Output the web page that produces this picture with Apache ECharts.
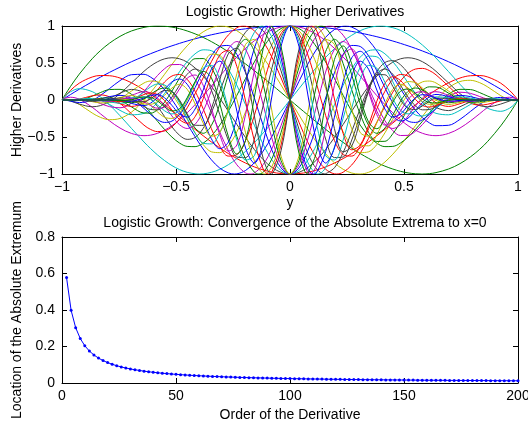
<!DOCTYPE html>
<html><head><meta charset="utf-8">
<script src="https://cdn.jsdelivr.net/npm/echarts@6/dist/echarts.min.js"></script>
<style>html,body{margin:0;padding:0;background:#fff}#c{width:528px;height:424px}</style>
</head><body><div id="c"></div>
<script>
// ---------- top panel: normalized higher derivatives vs y ----------
const yGrid = [-1,-0.9851,-0.9625,-0.9242,-0.8675,-0.8319,-0.7912,-0.7456,-0.6953,-0.6404,-0.6113,-0.5811,-0.5500,-0.5178,-0.4848,-0.4510,-0.4163,-0.3809,-0.3448,-0.3081,-0.2708,-0.2330,-0.1949,-0.1563,-0.1175,-0.0784,-0.0393,
 0,0.0393,0.0784,0.1175,0.1563,0.1949,0.2330,0.2708,0.3081,0.3448,0.3809,0.4163,0.4510,0.4848,0.5178,0.5500,0.5811,0.6113,0.6404,0.6953,0.7456,0.7912,0.8319,0.8675,0.9242,0.9625,0.9851,1];

const deriv1 = [0,0.030,0.074,0.146,0.247,0.308,0.374,0.444,0.517,0.590,0.626,0.662,0.698,0.732,0.765,0.797,0.827,0.855,0.881,0.905,0.927,0.946,0.962,0.976,0.986,0.994,0.998,
 1,0.998,0.994,0.986,0.976,0.962,0.946,0.927,0.905,0.881,0.855,0.827,0.797,0.765,0.732,0.698,0.662,0.626,0.590,0.517,0.444,0.374,0.308,0.247,0.146,0.074,0.030,0];
const deriv2 = [0,0.076,0.184,0.350,0.558,0.666,0.769,0.860,0.933,0.981,0.995,1.000,0.997,0.985,0.964,0.933,0.894,0.846,0.789,0.724,0.652,0.573,0.487,0.396,0.301,0.203,0.102,
 0,-0.102,-0.203,-0.301,-0.396,-0.487,-0.573,-0.652,-0.724,-0.789,-0.846,-0.894,-0.933,-0.964,-0.985,-0.997,-1.000,-0.995,-0.981,-0.933,-0.860,-0.769,-0.666,-0.558,-0.350,-0.184,-0.076,0];
const deriv3 = [0,0.056,0.131,0.228,0.311,0.331,0.328,0.297,0.233,0.136,0.076,0.009,-0.065,-0.143,-0.225,-0.311,-0.397,-0.483,-0.567,-0.647,-0.723,-0.792,-0.852,-0.904,-0.945,-0.976,-0.994,
 -1,-0.994,-0.976,-0.945,-0.904,-0.852,-0.792,-0.723,-0.647,-0.567,-0.483,-0.397,-0.311,-0.225,-0.143,-0.065,0.009,0.076,0.136,0.233,0.297,0.328,0.331,0.311,0.228,0.131,0.056,0];
const deriv4 = [0,0.054,0.112,0.153,0.113,0.043,-0.067,-0.212,-0.384,-0.567,-0.657,-0.742,-0.819,-0.886,-0.940,-0.977,-0.997,-0.998,-0.978,-0.937,-0.875,-0.793,-0.693,-0.576,-0.445,-0.303,-0.153,
 0,0.153,0.303,0.445,0.576,0.693,0.793,0.875,0.937,0.978,0.998,0.997,0.977,0.940,0.886,0.819,0.742,0.657,0.567,0.384,0.212,0.067,-0.043,-0.113,-0.153,-0.112,-0.054,0];
const deriv5 = [0,0.024,0.037,0.010,-0.098,-0.185,-0.283,-0.379,-0.452,-0.482,-0.475,-0.450,-0.408,-0.347,-0.268,-0.173,-0.063,0.059,0.188,0.321,0.454,0.581,0.698,0.801,0.885,0.948,0.987,
 1,0.987,0.948,0.885,0.801,0.698,0.581,0.454,0.321,0.188,0.059,-0.063,-0.173,-0.268,-0.347,-0.408,-0.450,-0.475,-0.482,-0.452,-0.379,-0.283,-0.185,-0.098,0.010,0.037,0.024,0];
const deriv6 = [0,0.010,0.001,-0.059,-0.176,-0.234,-0.266,-0.249,-0.164,-0.005,0.101,0.220,0.348,0.481,0.611,0.732,0.838,0.921,0.977,1.000,0.987,0.936,0.849,0.726,0.574,0.397,0.203,
 0,-0.203,-0.397,-0.574,-0.726,-0.849,-0.936,-0.987,-1.000,-0.977,-0.921,-0.838,-0.732,-0.611,-0.481,-0.348,-0.220,-0.101,0.005,0.164,0.249,0.266,0.234,0.176,0.059,-0.001,-0.010,0];
const deriv7 = [0,0.001,-0.014,-0.055,-0.091,-0.076,-0.019,0.086,0.230,0.388,0.459,0.517,0.556,0.571,0.557,0.512,0.433,0.323,0.185,0.025,-0.150,-0.331,-0.507,-0.669,-0.807,-0.912,-0.978,
 -1,-0.978,-0.912,-0.807,-0.669,-0.507,-0.331,-0.150,0.025,0.185,0.323,0.433,0.512,0.557,0.571,0.556,0.517,0.459,0.388,0.230,0.086,-0.019,-0.076,-0.091,-0.055,-0.014,0.001,0];
const deriv8 = [0,-0.002,-0.015,-0.035,-0.002,0.061,0.155,0.262,0.342,0.347,0.309,0.239,0.137,0.005,-0.150,-0.321,-0.496,-0.663,-0.808,-0.920,-0.985,-0.998,-0.952,-0.848,-0.690,-0.487,-0.252,
 0,0.252,0.487,0.690,0.848,0.952,0.998,0.985,0.920,0.808,0.663,0.496,0.321,0.150,-0.005,-0.137,-0.239,-0.309,-0.347,-0.342,-0.262,-0.155,-0.061,0.002,0.035,0.015,0.002,0];
const deriv9 = [0,-0.002,-0.008,-0.004,0.052,0.100,0.141,0.144,0.077,-0.074,-0.176,-0.287,-0.399,-0.501,-0.581,-0.627,-0.630,-0.584,-0.487,-0.340,-0.153,0.063,0.292,0.514,0.711,0.867,0.966,
 1,0.966,0.867,0.711,0.514,0.292,0.063,-0.153,-0.340,-0.487,-0.584,-0.630,-0.627,-0.581,-0.501,-0.399,-0.287,-0.176,-0.074,0.077,0.144,0.141,0.100,0.052,-0.004,-0.008,-0.002,0];
const deriv10 = [0,-0.001,-0.003,0.012,0.057,0.069,0.042,-0.044,-0.186,-0.340,-0.398,-0.427,-0.418,-0.363,-0.258,-0.106,0.085,0.299,0.518,0.718,0.878,0.976,0.998,0.935,0.790,0.572,0.300,
 0,-0.300,-0.572,-0.790,-0.935,-0.998,-0.976,-0.878,-0.718,-0.518,-0.299,-0.085,0.106,0.258,0.363,0.418,0.427,0.398,0.340,0.186,0.044,-0.042,-0.069,-0.057,-0.012,0.003,0.001,0];
const deriv11 = [0,-0.001,0.001,0.013,0.021,-0.004,-0.061,-0.140,-0.200,-0.180,-0.124,-0.033,0.089,0.232,0.381,0.518,0.624,0.678,0.666,0.579,0.420,0.198,-0.064,-0.341,-0.601,-0.813,-0.952,
 -1,-0.952,-0.813,-0.601,-0.341,-0.064,0.198,0.420,0.579,0.666,0.678,0.624,0.518,0.381,0.232,0.089,-0.033,-0.124,-0.180,-0.200,-0.140,-0.061,-0.004,0.021,0.013,0.001,-0.001,0];
const deriv12 = [0,0,0.002,0.008,-0.011,-0.047,-0.090,-0.105,-0.043,0.117,0.224,0.331,0.423,0.478,0.480,0.415,0.279,0.078,-0.168,-0.433,-0.682,-0.876,-0.985,-0.986,-0.872,-0.650,-0.347,
 0,0.347,0.650,0.872,0.986,0.985,0.876,0.682,0.433,0.168,-0.078,-0.279,-0.415,-0.480,-0.478,-0.423,-0.331,-0.224,-0.117,0.043,0.105,0.090,0.047,0.011,-0.008,-0.002,0,0];
const deriv13 = [0,0,0.001,0.001,-0.022,-0.039,-0.035,0.016,0.121,0.230,0.256,0.245,0.187,0.078,-0.076,-0.259,-0.444,-0.602,-0.700,-0.711,-0.621,-0.431,-0.160,0.159,0.478,0.752,0.935,
 1,0.935,0.752,0.478,0.159,-0.160,-0.431,-0.621,-0.711,-0.700,-0.602,-0.444,-0.259,-0.076,0.078,0.187,0.245,0.256,0.230,0.121,0.016,-0.035,-0.039,-0.022,0.001,0.001,0,0];
const deriv14 = [0,0,0.001,-0.003,-0.017,-0.011,0.025,0.091,0.143,0.101,0.024,-0.088,-0.224,-0.363,-0.476,-0.532,-0.506,-0.384,-0.170,0.113,0.424,0.710,0.916,1.000,0.934,0.723,0.394,
 0,-0.394,-0.723,-0.934,-1.000,-0.916,-0.710,-0.424,-0.113,0.170,0.384,0.506,0.532,0.476,0.363,0.224,0.088,-0.024,-0.101,-0.143,-0.091,-0.025,0.011,0.017,0.003,-0.001,0,0];
const deriv15 = [0,0,0,-0.003,-0.003,0.015,0.046,0.063,0.018,-0.114,-0.196,-0.266,-0.303,-0.285,-0.198,-0.042,0.167,0.394,0.596,0.723,0.737,0.616,0.367,0.027,-0.346,-0.683,-0.917,
 -1,-0.917,-0.683,-0.346,0.027,0.367,0.616,0.737,0.723,0.596,0.394,0.167,-0.042,-0.198,-0.285,-0.303,-0.266,-0.196,-0.114,0.018,0.063,0.046,0.015,-0.003,-0.003,0,0,0];
const deriv16 = [0,0,0,-0.002,0.007,0.022,0.029,-0.005,-0.093,-0.176,-0.178,-0.131,-0.029,0.121,0.295,0.456,0.558,0.560,0.438,0.194,-0.137,-0.493,-0.797,-0.975,-0.977,-0.788,-0.439,
 0,0.439,0.788,0.977,0.975,0.797,0.493,0.137,-0.194,-0.438,-0.560,-0.558,-0.456,-0.295,-0.121,0.029,0.131,0.178,0.176,0.093,0.005,-0.029,-0.022,-0.007,0.002,0,0,0];
const deriv17 = [0,0,0,0,0.008,0.011,-0.006,-0.050,-0.087,-0.037,0.038,0.138,0.244,0.324,0.345,0.279,0.118,-0.119,-0.388,-0.624,-0.758,-0.738,-0.546,-0.208,0.208,0.608,0.895,
 1,0.895,0.608,0.208,-0.208,-0.546,-0.738,-0.758,-0.624,-0.388,-0.119,0.118,0.279,0.345,0.324,0.244,0.138,0.038,-0.037,-0.087,-0.050,-0.006,0.011,0.008,0,0,0,0];
const deriv18 = [0,0,0,0.001,0.004,-0.003,-0.025,-0.044,-0.007,0.111,0.177,0.216,0.202,0.116,-0.041,-0.246,-0.448,-0.583,-0.593,-0.444,-0.145,0.247,0.636,0.915,0.998,0.845,0.484,
 0,-0.484,-0.845,-0.998,-0.915,-0.636,-0.247,0.145,0.444,0.593,0.583,0.448,0.246,0.041,-0.116,-0.202,-0.216,-0.177,-0.111,0.007,0.044,0.025,0.003,-0.004,-0.001,0,0,0];
const deriv19 = [0,0,0,0.001,-0.001,-0.009,-0.018,0,0.062,0.112,0.093,0.028,-0.082,-0.216,-0.333,-0.385,-0.329,-0.151,0.127,0.437,0.688,0.790,0.685,0.377,-0.067,-0.527,-0.872,
 -1,-0.872,-0.527,-0.067,0.377,0.685,0.790,0.688,0.437,0.127,-0.151,-0.329,-0.385,-0.333,-0.216,-0.082,0.028,0.093,0.112,0.062,0,-0.018,-0.009,-0.001,0.001,0,0,0];
const deriv20 = [0,0,0,0,-0.003,-0.008,-0.001,0.032,0.060,0.003,-0.072,-0.161,-0.233,-0.249,-0.176,-0.007,0.230,0.468,0.619,0.604,0.389,0.007,-0.443,-0.822,-0.997,-0.894,-0.527,
 0,0.527,0.894,0.997,0.822,0.443,-0.007,-0.389,-0.604,-0.619,-0.468,-0.230,0.007,0.176,0.249,0.233,0.161,0.072,-0.003,-0.060,-0.032,0.001,0.008,0.003,0,0,0,0];
const deriv21 = [0,0,0,0,0,-0.001,0.012,0.027,0,-0.089,-0.128,-0.133,-0.079,0.039,0.198,0.348,0.419,0.354,0.134,-0.197,-0.541,-0.770,-0.778,-0.527,-0.074,0.441,0.847,
 1,0.847,0.441,-0.074,-0.527,-0.778,-0.770,-0.541,-0.197,0.134,0.354,0.419,0.348,0.198,0.039,-0.079,-0.133,-0.128,-0.089,0,0.027,0.012,-0.001,0,0,0,0,0];
const deriv22 = [0,0,0,0,0,0.004,0.012,0.002,-0.046,-0.075,-0.042,0.035,0.144,0.245,0.284,0.213,0.018,-0.259,-0.524,-0.658,-0.571,-0.246,0.232,0.700,0.975,0.934,0.568,
 0,-0.568,-0.934,-0.975,-0.700,-0.232,0.246,0.571,0.658,0.524,0.259,-0.018,-0.213,-0.284,-0.245,-0.144,-0.035,0.042,0.075,0.046,-0.002,-0.012,-0.004,0,0,0,0,0];
const deriv23 = [0,0,0,0,0,0.004,0.003,-0.018,-0.037,0.016,0.076,0.137,0.162,0.116,-0.015,-0.203,-0.379,-0.450,-0.344,-0.054,0.339,0.684,0.820,0.654,0.212,-0.352,-0.819,
 -1,-0.819,-0.352,0.212,0.654,0.820,0.684,0.339,-0.054,-0.344,-0.450,-0.379,-0.203,-0.015,0.116,0.162,0.137,0.076,0.016,-0.037,-0.018,0.003,0.004,0,0,0,0,0];
const deriv24 = [0,0,0,0,0,0.002,-0.006,-0.018,0.003,0.074,0.095,0.073,-0.009,-0.137,-0.263,-0.314,-0.225,0.016,0.339,0.608,0.673,0.452,-0.014,-0.554,-0.933,-0.965,-0.609,
 0,0.609,0.965,0.933,0.554,0.014,-0.452,-0.673,-0.608,-0.339,-0.016,0.225,0.314,0.263,0.137,0.009,-0.073,-0.095,-0.074,-0.003,0.018,0.006,-0.002,0,0,0,0,0];
const deriv25 = [0,0,0,0,0,-0.001,-0.007,-0.003,0.030,0.042,0.005,-0.066,-0.146,-0.188,-0.139,0.016,0.239,0.430,0.467,0.278,-0.108,-0.541,-0.811,-0.752,-0.344,0.259,0.790,
 1,0.790,0.259,-0.344,-0.752,-0.811,-0.541,-0.108,0.278,0.467,0.430,0.239,0.016,-0.139,-0.188,-0.146,-0.066,0.005,0.042,0.030,-0.003,-0.007,-0.001,0,0,0,0,0];
const deriv26 = [0,0,0,0,0,0,-0.003,0.011,0.025,-0.025,-0.075,-0.111,-0.096,-0.005,0.148,0.295,0.338,0.200,-0.108,-0.469,-0.690,-0.607,-0.196,0.390,0.870,0.986,0.648,
 0,-0.648,-0.986,-0.870,-0.390,0.196,0.607,0.690,0.469,0.108,-0.200,-0.338,-0.295,-0.148,0.005,0.096,0.111,0.075,0.025,-0.025,-0.011,0.003,0,0,0,0,0,0];
const deriv27 = [0,0,0,0,0,0,0.002,0.011,-0.004,-0.053,-0.058,-0.020,0.063,0.162,0.213,0.145,-0.053,-0.311,-0.489,-0.441,-0.121,0.357,0.752,0.819,0.467,-0.164,-0.758,
 -1,-0.758,-0.164,0.467,0.819,0.752,0.357,-0.121,-0.441,-0.489,-0.311,-0.053,0.145,0.213,0.162,0.063,-0.020,-0.058,-0.053,-0.004,0.011,0.002,0,0,0,0,0,0];
const deriv28 = [0,0,0,0,0,0,0.004,0.002,-0.022,-0.023,0.017,0.079,0.128,0.113,0,-0.184,-0.341,-0.343,-0.119,0.270,0.623,0.702,0.386,-0.216,-0.790,-0.998,-0.685,
 0,0.685,0.998,0.790,0.216,-0.386,-0.702,-0.623,-0.270,0.119,0.343,0.341,0.184,0,-0.113,-0.128,-0.079,-0.017,0.023,0.022,-0.002,-0.004,0,0,0,0,0,0];
const deriv29 = [0,0,0,0,0,0,0.002,-0.006,-0.015,0.026,0.060,0.072,0.029,-0.073,-0.189,-0.231,-0.122,0.134,0.415,0.525,0.323,-0.150,-0.649,-0.852,-0.577,0.068,0.725,
 1,0.725,0.068,-0.577,-0.852,-0.649,-0.150,0.323,0.525,0.415,0.134,-0.122,-0.231,-0.189,-0.073,0.029,0.072,0.060,0.026,-0.015,-0.006,0.002,0,0,0,0,0,0];
const deriv30 = [0,0,0,0,0,0,-0.001,-0.007,0.004,0.040,0.033,-0.013,-0.090,-0.148,-0.119,0.031,0.248,0.388,0.300,-0.046,-0.488,-0.731,-0.546,0.037,0.694,1.000,0.720,
 0,-0.720,-1.000,-0.694,-0.037,0.546,0.731,0.488,0.046,-0.300,-0.388,-0.248,-0.031,0.119,0.148,0.090,0.013,-0.033,-0.040,-0.004,0.007,0.001,0,0,0,0,0,0];

const topCurves = [deriv1, deriv2, deriv3, deriv4, deriv5, deriv6, deriv7, deriv8, deriv9, deriv10,
  deriv11, deriv12, deriv13, deriv14, deriv15, deriv16, deriv17, deriv18, deriv19, deriv20,
  deriv21, deriv22, deriv23, deriv24, deriv25, deriv26, deriv27, deriv28, deriv29, deriv30];

// ---------- bottom panel: location of absolute extremum vs order ----------
const derivOrder = [2,4,6,8,10,12,14,16,18,20,22,24,26,28,30,32,34,36,38,40,42,44,46,48,50,52,54,56,58,60,62,64,66,68,70,72,74,76,78,80,82,84,86,88,90,92,94,96,98,100,
 102,104,106,108,110,112,114,116,118,120,122,124,126,128,130,132,134,136,138,140,142,144,146,148,150,152,154,156,158,160,162,164,166,168,170,172,174,176,178,180,182,184,186,188,190,192,194,196,198,200];
const extremaLoc = [0.5774,0.3980,0.3027,0.2438,0.2039,0.1752,0.1535,0.1366,0.1230,0.1119,0.1026,0.0947,0.0880,0.0821,0.0770,0.0725,0.0685,0.0649,0.0616,0.0587,0.0560,0.0536,0.0514,0.0493,0.0474,0.0457,0.0440,0.0425,0.0411,0.0398,0.0385,0.0374,0.0363,0.0352,0.0343,0.0333,0.0325,0.0316,0.0308,0.0301,0.0294,0.0287,0.0280,0.0274,0.0268,0.0262,0.0257,0.0252,0.0247,0.0242,
 0.0237,0.0233,0.0228,0.0224,0.0220,0.0216,0.0213,0.0209,0.0206,0.0202,0.0199,0.0196,0.0193,0.0190,0.0187,0.0184,0.0181,0.0179,0.0176,0.0174,0.0171,0.0169,0.0167,0.0164,0.0162,0.0160,0.0158,0.0156,0.0154,0.0152,0.0150,0.0149,0.0147,0.0145,0.0143,0.0142,0.0140,0.0139,0.0137,0.0136,0.0134,0.0133,0.0131,0.0130,0.0129,0.0127,0.0126,0.0125,0.0123,0.0122];

const titleTop = 'Logistic Growth: Higher Derivatives';
const titleBottom = 'Logistic Growth: Convergence of the Absolute Extrema to x=0';
const palette = ['#0000ff','#008000','#ff0000','#00bfbf','#bf00bf','#bfbf00','#404040'];

const FONT = "'Liberation Sans', Arial, Helvetica, sans-serif";
const fmt = v => { const r = +(+v).toFixed(2); return r < 0 ? '\u2212' + String(-r) : String(r); };

// build series for the top panel (grid values + the ±1 extremum of each even order)
const series = [];
topCurves.forEach((vals, i) => {
  const n = i + 1;
  const pts = yGrid.map((y, j) => [y, vals[j]]);
  if (n % 2 === 0) {
    const p = extremaLoc[n / 2 - 1];
    [p, -p].forEach(py => {
      let best = 0;
      yGrid.forEach((y, j) => { if (Math.abs(y - py) < Math.abs(yGrid[best] - py)) best = j; });
      pts.push([py, Math.sign(vals[best])]);
    });
    pts.sort((a, b) => a[0] - b[0]);
  }
  series.push({
    type: 'line', xAxisIndex: 0, yAxisIndex: 0, data: pts, showSymbol: false,
    smooth: 0.35, silent: true, color: palette[i % 7],
    lineStyle: { width: 1, color: palette[i % 7] }
  });
});
series.push({
  type: 'line', xAxisIndex: 2, yAxisIndex: 2,
  data: derivOrder.map((n, i) => [n, extremaLoc[i]]),
  symbol: 'circle', symbolSize: 3, showSymbol: true, silent: true,
  color: '#0000ff', itemStyle: { color: '#0000ff' },
  lineStyle: { width: 1, color: '#0000ff' }
});

const lbl = { color: '#000', fontSize: 14, fontFamily: FONT };
const axLine = { show: true, onZero: false, lineStyle: { color: '#000', width: 1 } };
const tick = { show: true, inside: true, length: 5, lineStyle: { color: '#000', width: 1 } };
function mainX(grid, min, max, interval, name, gap) {
  return { gridIndex: grid, type: 'value', min, max, interval, position: 'bottom',
    axisLine: axLine, axisTick: tick, splitLine: { show: false },
    axisLabel: Object.assign({ margin: 6, formatter: fmt }, lbl),
    name, nameLocation: 'middle', nameGap: gap, nameMoveOverlap: false, nameTextStyle: lbl };
}
function mirrorX(grid, min, max, interval) {
  return { gridIndex: grid, type: 'value', min, max, interval, position: 'top',
    axisLine: axLine, axisTick: tick, axisLabel: { show: false }, splitLine: { show: false } };
}
function mainY(grid, min, max, interval, name) {
  return { gridIndex: grid, type: 'value', min, max, interval, position: 'left',
    axisLine: axLine, axisTick: tick, splitLine: { show: false },
    axisLabel: Object.assign({ margin: 7, formatter: fmt }, lbl),
    name, nameLocation: 'middle', nameGap: 38, nameRotate: 90, nameMoveOverlap: false, nameTextStyle: lbl };
}
function mirrorY(grid, min, max, interval) {
  return { gridIndex: grid, type: 'value', min, max, interval, position: 'right',
    axisLine: axLine, axisTick: tick, axisLabel: { show: false }, splitLine: { show: false } };
}

const chart = echarts.init(document.getElementById('c'), null, { renderer: 'canvas' });
chart.setOption({
  animation: false,
  backgroundColor: '#fff',
  title: [
    { text: titleTop, left: 290, top: 0, textAlign: 'center', textStyle: Object.assign({ fontWeight: 'normal' }, lbl) },
    { text: titleBottom, left: 290, top: 211, textAlign: 'center', textStyle: Object.assign({ fontWeight: 'normal' }, lbl) }
  ],
  grid: [
    { left: 62, top: 26, width: 456, height: 148, containLabel: false, outerBoundsMode: 'none' },
    { left: 62, top: 237, width: 456, height: 146, containLabel: false, outerBoundsMode: 'none' }
  ],
  xAxis: [ mainX(0, -1, 1, 0.5, 'y', 22), mirrorX(0, -1, 1, 0.5), mainX(1, 0, 200, 50, 'Order of the Derivative', 25), mirrorX(1, 0, 200, 50) ],
  yAxis: [ mainY(0, -1, 1, 0.5, 'Higher Derivatives'), mirrorY(0, -1, 1, 0.5), mainY(1, 0, 0.8, 0.2, 'Location of the Absolute Extremum'), mirrorY(1, 0, 0.8, 0.2) ],
  series
});
</script>
</body></html>
